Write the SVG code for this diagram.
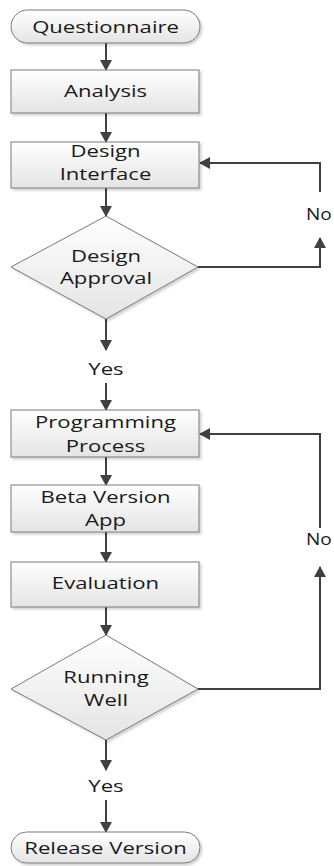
<svg xmlns="http://www.w3.org/2000/svg" width="334" height="866" viewBox="0 0 334 866">
  <style>
    .shape { fill: url(#shade); stroke: #7a7a7a; stroke-width: 1; filter: url(#drop); }
    .label { font-family: "Open Sans", "Liberation Sans", sans-serif; font-size: 17px; fill: #1a1a1a; text-anchor: middle; dominant-baseline: central; }
    .tag { font-family: "Open Sans", "Liberation Sans", sans-serif; font-size: 17px; fill: #1a1a1a; dominant-baseline: central; }
    .flow { fill: none; stroke: #404040; stroke-width: 2; marker-end: url(#head); }
  </style>
  <defs>
    <linearGradient id="shade" x1="0" y1="0" x2="0" y2="1">
      <stop offset="0" stop-color="#ffffff"/>
      <stop offset="1" stop-color="#e4e4e4"/>
    </linearGradient>
    <filter id="drop" x="-10%" y="-10%" width="130%" height="140%">
      <feDropShadow dx="2" dy="2" stdDeviation="1" flood-color="#000000" flood-opacity="0.18"/>
    </filter>
    <marker id="head" viewBox="0 0 11 12" refX="10" refY="6" markerWidth="11" markerHeight="12" markerUnits="userSpaceOnUse" orient="auto">
      <path d="M0,0 L11,6 L0,12 Z" fill="#404040"/>
    </marker>
  </defs>

  <!-- connectors -->
  <g id="connectors">
    <path class="flow" d="M106,43 V70"/>
    <path class="flow" d="M106,113 V142"/>
    <path class="flow" d="M106,188 V216"/>
    <path class="flow" d="M106,319 V350"/>
    <path class="flow" d="M106,383 V410"/>
    <path class="flow" d="M106,457 V485"/>
    <path class="flow" d="M106,532 V562"/>
    <path class="flow" d="M106,607 V635"/>
    <path class="flow" d="M106,740 V770"/>
    <path class="flow" d="M106,800 V832"/>
    <!-- design loop back -->
    <path class="flow" d="M198,267 H320 V238"/>
    <path class="flow" d="M320,192 V163 H200"/>
    <!-- programming loop back -->
    <path class="flow" d="M198,689 H320 V567"/>
    <path class="flow" d="M320,528 V434 H200"/>
    <text class="tag" transform="translate(306 213) scale(1.12 1)">No</text>
    <text class="tag" transform="translate(306 538) scale(1.12 1)">No</text>
    <text class="label" transform="translate(106 369) scale(1.3 1)">Yes</text>
    <text class="label" transform="translate(106 786) scale(1.3 1)">Yes</text>
  </g>

  <g id="questionnaire">
    <rect class="shape" x="11" y="10" width="189" height="33" rx="16.5"/>
    <text class="label" transform="translate(105.5 27) scale(1.3 1)">Questionnaire</text>
  </g>

  <g id="analysis">
    <rect class="shape" x="11" y="70" width="188" height="43"/>
    <text class="label" transform="translate(105.5 91) scale(1.3 1)">Analysis</text>
  </g>

  <g id="design-interface">
    <rect class="shape" x="11" y="142" width="188" height="46"/>
    <text class="label" transform="translate(105.5 151) scale(1.3 1)">Design</text>
    <text class="label" transform="translate(105.5 174) scale(1.3 1)">Interface</text>
  </g>

  <g id="design-approval">
    <polygon class="shape" points="106,216 198,267 106,319 11,267"/>
    <text class="label" transform="translate(106 256) scale(1.3 1)">Design</text>
    <text class="label" transform="translate(106 278) scale(1.3 1)">Approval</text>
  </g>

  <g id="programming-process">
    <rect class="shape" x="11" y="410" width="188" height="47"/>
    <text class="label" transform="translate(105.5 422) scale(1.3 1)">Programming</text>
    <text class="label" transform="translate(105.5 446) scale(1.3 1)">Process</text>
  </g>

  <g id="beta-version">
    <rect class="shape" x="11" y="485" width="188" height="47"/>
    <text class="label" transform="translate(105.5 497) scale(1.3 1)">Beta Version</text>
    <text class="label" transform="translate(105.5 520) scale(1.3 1)">App</text>
  </g>

  <g id="evaluation">
    <rect class="shape" x="11" y="562" width="188" height="45"/>
    <text class="label" transform="translate(105.5 583) scale(1.3 1)">Evaluation</text>
  </g>

  <g id="running-well">
    <polygon class="shape" points="106,635 198,689 106,740 11,689"/>
    <text class="label" transform="translate(106 677) scale(1.3 1)">Running</text>
    <text class="label" transform="translate(106 700) scale(1.3 1)">Well</text>
  </g>

  <g id="release-version">
    <rect class="shape" x="11" y="832" width="189" height="31" rx="15.5"/>
    <text class="label" transform="translate(105.5 848) scale(1.3 1)">Release Version</text>
  </g>
</svg>
